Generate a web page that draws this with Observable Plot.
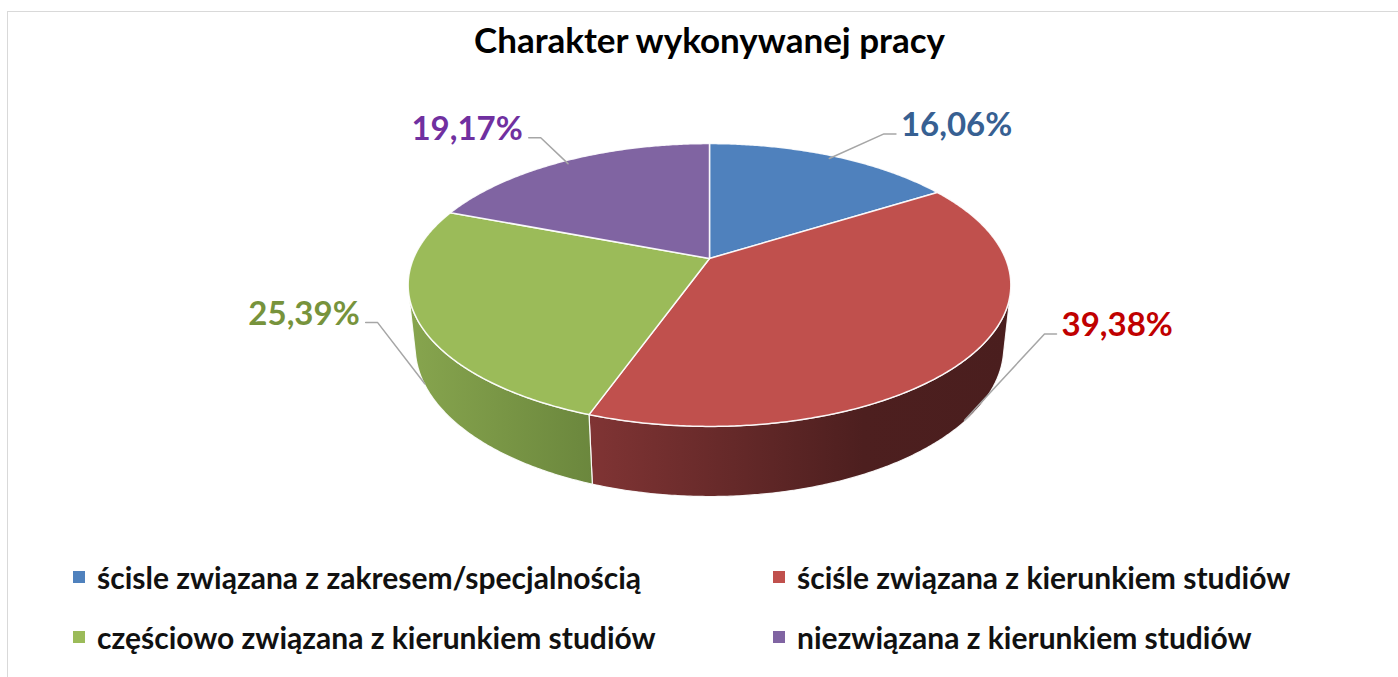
<!DOCTYPE html>
<html>
<head>
<meta charset="utf-8">
<script src="https://cdn.jsdelivr.net/npm/d3@7"></script>
<script src="https://cdn.jsdelivr.net/npm/@observablehq/plot@0.6"></script>
<style>
  html, body { margin: 0; padding: 0; background: #fff; }
  #wrap { position: relative; width: 1398px; height: 677px; overflow: hidden; font-family: Lato, "Open Sans", sans-serif; }
  #frame { position: absolute; left: 7px; top: 11px; width: 1420px; height: 720px; border: 1.5px solid #d9d9d9; box-sizing: border-box; }
  #chart { position: absolute; left: 0; top: 0; }
  .item { position: absolute; display: flex; align-items: center; font-weight: 700; font-size: 30px; color: #111; white-space: nowrap; transform: translateY(-50%); }
  .sw { width: 12px; height: 12px; margin-right: 12px; flex: none; }
</style>
</head>
<body>
<div id="wrap"><div id="frame"></div><div id="chart"></div></div>
<script>
// ---- data ----
const title = "Charakter wykonywanej pracy";
const categories = [
  "ścisle związana z zakresem/specjalnością",
  "ściśle związana z kierunkiem studiów",
  "częściowo związana z kierunkiem studiów",
  "niezwiązana z kierunkiem studiów"
];
const values = [16.06, 39.38, 25.39, 19.17];
const valueLabels = ["16,06%", "39,38%", "25,39%", "19,17%"];
const colors = ["#4f81bd", "#c0504d", "#9bbb59", "#8064a2"];
const labelColors = ["#376092", "#c00000", "#77933c", "#7030a0"];

// ---- styling / layout (not data) ----
const sideShades = [
  [["0", "#3a5f8c"], ["1", "#2a4568"]],
  [["0", "#803434"], ["0.65", "#4d1f1f"], ["1", "#4a1e1e"]],
  [["0", "#87a54e"], ["1", "#6b873d"]],
  [["0", "#5f4a78"], ["1", "#463758"]]
];
const labelNudge = [[36, -9], [28, -38], [8, -8], [-5, -11]]; // px
const W = 1398, HGT = 677;
const CX = 709, CY = 258, S = 296;          // pie apex on screen, px per model unit
const D = 4.736, SA = 0.461, CA = 0.887;    // perspective camera
const DEPTH = 0.238;                        // pie thickness

function proj(theta, r, z) {
  const u = r * Math.sin(theta), v = r * Math.cos(theta);
  const dep = D + v * CA - z * SA;
  return {x: u * D / dep, y: (v * SA + z * CA) * D / dep};
}
function arc(a0, a1, r, z) {
  const n = Math.max(2, Math.ceil(Math.abs(a1 - a0) / (Math.PI / 360)) + 1);
  return d3.range(n).map(k => proj(a0 + (a1 - a0) * k / (n - 1), r, z));
}

const total = d3.sum(values);
let cum = 0;
const slices = values.map((v, i) => {
  const a0 = 2 * Math.PI * cum / total;
  cum += v;
  const a1 = 2 * Math.PI * cum / total;
  return {i, a0, a1, mid: (a0 + a1) / 2};
});

// front-facing range of the cylinder side
const thS = Math.acos(-1 / (D * CA));
const thE = 2 * Math.PI - thS;

const marks = [];
// gradients
marks.push(() => {
  const defs = d3.create("svg:defs");
  sideShades.forEach((stops, i) => {
    const g = defs.append("linearGradient").attr("id", "side" + i)
      .attr("x1", "0").attr("x2", "1").attr("y1", "0").attr("y2", "0");
    stops.forEach(([o, c]) => g.append("stop").attr("offset", o).attr("stop-color", c));
  });
  return defs.node();
});

// sides
slices.forEach(s => {
  const lo = Math.max(s.a0, thS), hi = Math.min(s.a1, thE);
  if (lo < hi) {
    const poly = arc(lo, hi, 1, 0).concat(arc(hi, lo, 1, -DEPTH));
    marks.push(Plot.line(poly, {x: "x", y: "y", curve: "linear-closed",
      fill: `url(#side${s.i})`, stroke: "#ffffff", strokeWidth: 1.2, strokeOpacity: 0.9}));
  }
});
// top faces
slices.forEach(s => {
  const poly = [proj(0, 0, 0)].concat(arc(s.a0, s.a1, 1, 0));
  marks.push(Plot.line(poly, {x: "x", y: "y", curve: "linear-closed",
    fill: colors[s.i], stroke: "#ffffff", strokeWidth: 1.5, strokeOpacity: 0.9}));
});

// leaders and labels
const labelData = [];
slices.forEach(s => {
  const front = Math.cos(s.mid) < -1 / (D * CA);
  const start = front ? proj(s.mid, 1, -DEPTH * 0.98) : proj(s.mid, 0.97, 0);
  const e = proj(s.mid, 1.15, 0);
  const elbow = {x: e.x + labelNudge[s.i][0] / S, y: e.y - labelNudge[s.i][1] / S};
  const right = Math.sin(s.mid) > 0;
  const end = {x: elbow.x + (right ? 12 : -12) / S, y: elbow.y};
  marks.push(Plot.line([start, elbow, end], {x: "x", y: "y", stroke: "#a6a6a6", strokeWidth: 1.5}));
  labelData.push({
    x: end.x + (right ? 5 : -6) / S,
    y: elbow.y - 2 / S,
    text: valueLabels[s.i],
    color: labelColors[s.i],
    right
  });
});
marks.push(Plot.text(labelData.filter(d => d.right), {x: "x", y: "y", text: "text", fill: "color",
  textAnchor: "start", lineAnchor: "bottom", fontSize: 33, fontWeight: 700, fontFamily: "Lato"}));
marks.push(Plot.text(labelData.filter(d => !d.right), {x: "x", y: "y", text: "text", fill: "color",
  textAnchor: "end", lineAnchor: "bottom", fontSize: 33, fontWeight: 700, fontFamily: "Lato"}));

// title
marks.push(Plot.text([title], {frameAnchor: "top", dx: CX - W / 2, dy: 52, lineAnchor: "bottom",
  fontSize: 35, fontWeight: 700, fill: "#000", fontFamily: "Lato"}));

const chart = Plot.plot({
  width: W, height: HGT, margin: 0, inset: 0,
  x: {type: "linear", domain: [-CX / S, (W - CX) / S], range: [0, W], axis: null},
  y: {type: "linear", domain: [-(HGT - CY) / S, CY / S], range: [HGT, 0], axis: null},
  color: {type: "identity"},
  style: {background: "transparent", overflow: "visible"},
  marks
});
document.getElementById("chart").appendChild(chart);

// legend
const legendCols = [73, 773], legendRows = [577, 637];
const items = d3.select("#wrap").selectAll("div.item").data(categories).join("div")
  .attr("class", "item")
  .style("left", (d, i) => legendCols[i % 2] + "px")
  .style("top", (d, i) => legendRows[Math.floor(i / 2)] + "px");
items.append("div").attr("class", "sw").style("background", (d, i) => colors[i]);
items.append("span").text(d => d);
</script>
</body>
</html>
